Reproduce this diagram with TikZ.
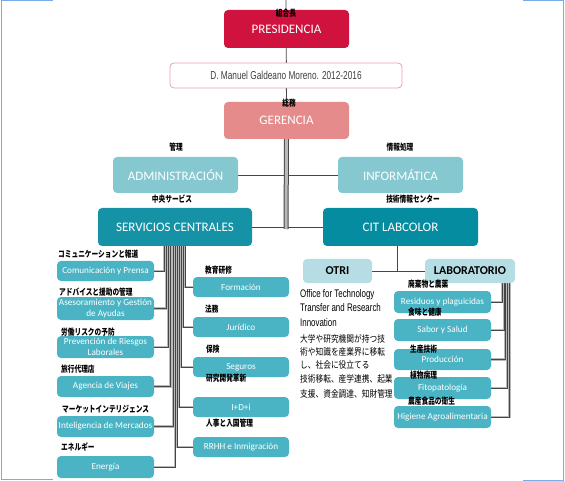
\documentclass[tikz,border=0pt]{standalone}
\usepackage{fontspec}
\setmainfont{Carlito}
\newfontfamily\boxfont{Carlito}
\newfontfamily\narrowfont{Liberation Sans}[FakeStretch=0.72]
\newfontfamily\jp{Noto Sans CJK JP}[FakeStretch=0.76]
\newfontfamily\jpd{Noto Sans CJK JP}[FakeStretch=0.82]
\usetikzlibrary{calc}
\pgfdeclarelayer{bg}
\pgfsetlayers{bg,main}
\definecolor{cPres}{RGB}{208,18,62}
\definecolor{cGer}{RGB}{229,139,139}
\definecolor{cManB}{RGB}{232,160,165}
\definecolor{cAdm}{RGB}{134,200,208}
\definecolor{cServ}{RGB}{22,146,166}
\definecolor{cCit}{RGB}{6,140,160}
\definecolor{cPale}{RGB}{182,221,227}
\definecolor{cSub}{RGB}{75,180,196}
\definecolor{cFrame}{RGB}{120,172,232}
\definecolor{cLine}{RGB}{70,70,70}
\begin{document}
\begin{tikzpicture}[x=1pt,y=-1pt,
  bx/.style={rounded corners=4pt, inner sep=0pt, text=white, align=center,
    font=\boxfont\fontsize{13}{14}\selectfont},
  topbox/.style={bx, minimum width=125pt, minimum height=37pt},
  midbox/.style={bx, minimum height=38pt},
  pale/.style={bx, fill=cPale, text=black, minimum height=24pt,
    font=\boxfont\bfseries\fontsize{12}{13}\selectfont},
  sub/.style={bx, fill=cSub, minimum height=21pt,
    font=\boxfont\fontsize{9.2}{10.5}\selectfont},
  subL/.style={sub, minimum width=97pt},
  subR/.style={sub, minimum width=96pt},
  jl/.style={inner sep=0pt, text=black, font=\jp\bfseries\fontsize{8.8}{9}\selectfont},
  jlw/.style={jl, anchor=west},
  desc/.style={inner sep=0pt, anchor=base west, text=black,
    font=\narrowfont\fontsize{11}{12}\selectfont},
  descj/.style={desc, font=\jpd\fontsize{9.4}{11}\selectfont},
  line/.style={draw=cLine, line width=0.9pt},
  trunk/.style={draw=cLine, line width=5pt, postaction={draw=gray!55, line width=3pt}},
  under/.style={draw=gray!55, line width=2.6pt},
  over/.style={draw=cLine, line width=0.6pt},
  frame/.style={draw=cFrame, line width=0.9pt}
]
\useasboundingbox (0,0) rectangle (565,481);

% frame
\draw[frame] (53,0.5) -- (1,0.5) -- (1,479.5) -- (53,479.5);
\draw[frame] (523,0.5) -- (563,0.5) -- (563,480) -- (523,480);

% top boxes
\node[topbox, fill=cPres, minimum height=38pt] (pres) at (286.5,29) {PRESIDENCIA};
\node[bx, fill=white, draw=cManB, line width=0.8pt, minimum width=232pt, minimum height=25pt,
  text=black!75, font=\narrowfont\fontsize{11.5}{12}\selectfont] (man) at (286,75.5)
  {D. Manuel Galdeano Moreno. 2012-2016};
\node[topbox, fill=cGer] (ger) at (286.5,120.5) {GERENCIA};
\node[topbox, fill=cAdm, minimum height=36pt] (adm) at (175.5,175) {ADMINISTRACIÓN};
\node[topbox, fill=cAdm, minimum height=36pt] (inf) at (400.5,175) {INFORMÁTICA};
\node[midbox, fill=cServ, minimum width=154pt] (serv) at (175,227) {SERVICIOS CENTRALES};
\node[midbox, fill=cCit, minimum width=155pt] (cit) at (400.5,227) {CIT LABCOLOR};
\node[pale, minimum width=69pt] (otri) at (337.5,271) {OTRI};
\node[pale, minimum width=90pt] (lab) at (470,271) {LABORATORIO};

% left column
\node[subL, minimum height=20pt] (com) at (105.5,271) {Comunicación y Prensa};
\node[subL, minimum height=23pt] (ase) at (105.5,308.5) {Asesoramiento y Gestión\\de Ayudas};
\node[subL, minimum height=22pt] (pre) at (105.5,347) {Prevención de Riesgos\\Laborales};
\node[subL] (age) at (105.5,386.5) {Agencia de Viajes};
\node[subL] (int) at (105.5,426.5) {Inteligencia de Mercados};
\node[subL, minimum height=22pt] (ene) at (105.5,467) {Energía};

% right column
\node[subR, minimum height=20pt] (for) at (241,287) {Formación};
\node[subR, minimum height=20pt] (jur) at (241,327) {Jurídico};
\node[subR, minimum height=20pt] (seg) at (241,367) {Seguros};
\node[subR, minimum height=20pt] (idi) at (241,407) {I+D+i};
\node[subR, minimum height=20pt] (rrh) at (241,447) {RRHH e Inmigración};

% laboratorio children
\node[subL, minimum height=22pt] (res) at (442.5,302) {Residuos y plaguicidas};
\node[subL, minimum height=22pt] (sab) at (442.5,330) {Sabor y Salud};
\node[subL] (pro) at (442.5,359.5) {Producción};
\node[subL, minimum height=22pt] (fit) at (442.5,388) {Fitopatología};
\node[subL, minimum height=22pt] (hig) at (442.5,417) {Higiene Agroalimentaria};

% coordinates
\coordinate (top) at (286,0);
\coordinate (tj) at (286,229);
\coordinate (sa) at (164,246);
\coordinate (sb) at (166.2,246);
\coordinate (sc) at (168.4,246);
\coordinate (sd) at (170.6,246);
\coordinate (se) at (172.8,246);
\coordinate (sf) at (175,246);
\coordinate (ra) at (185,246);
\coordinate (rb) at (183,246);
\coordinate (rc) at (181,246);
\coordinate (rd) at (179,246);
\coordinate (re) at (177,246);
\coordinate (la) at (502,283);
\coordinate (lb) at (503.8,283);
\coordinate (lc) at (505.6,283);
\coordinate (ld) at (507.4,283);
\coordinate (le) at (509.2,283);
\coordinate (cj) at (397,246);

\begin{pgfonlayer}{bg}
  \draw[line] (top) -- (ger.north);
  \draw[line] (adm) -- (inf);
  \draw[line] (serv) -- (cit);
  \draw[trunk] (ger.south) -- (tj);
  \draw[line] (cj) -- (cj |- otri);
  \draw[line] (otri) -- (lab);
  \foreach \st in {under,over}{
    \draw[\st] (com.east) -| (sa);
    \draw[\st] (ase.east) -| (sb);
    \draw[\st] (pre.east) -| (sc);
    \draw[\st] (age.east) -| (sd);
    \draw[\st] (int.east) -| (se);
    \draw[\st] (ene.east) -| (sf);
    \draw[\st] (for.west) -| (ra);
    \draw[\st] (jur.west) -| (rb);
    \draw[\st] (seg.west) -| (rc);
    \draw[\st] (idi.west) -| (rd);
    \draw[\st] (rrh.west) -| (re);
    \draw[\st] (res.east) -| (la);
    \draw[\st] (sab.east) -| (lb);
    \draw[\st] (pro.east) -| (lc);
    \draw[\st] (fit.east) -| (ld);
    \draw[\st] (hig.east) -| (le);
  }
\end{pgfonlayer}

% Japanese labels
\node[jl] (j1) at (286,13) {組合長};
\node[jl] (j2) at (289,103) {総務};
\node[jl] (j3) at (176,147) {管理};
\node[jl] (j4) at (400,147) {情報処理};
\node[jl] (j5) at (172,199) {中央サービス};
\node[jl] (j6) at (413,199) {技術情報センター};
\node[jlw] (j7) at (58,254) {コミュニケーションと報道};
\node[jlw] (j8) at (59,292) {アドバイスと援助の管理};
\node[jlw] (j9) at (61,332) {労働リスクの予防};
\node[jlw] (j10) at (61,369) {旅行代理店};
\node[jlw] (j11) at (62,409) {マーケットインテリジェンス};
\node[jlw] (j12) at (61,447) {エネルギー};
\node[jlw] (j13) at (205,270) {教育研修};
\node[jlw] (j14) at (205,309) {法務};
\node[jlw] (j15) at (206,349) {保険};
\node[jlw] (j16) at (206,378) {研究開発革新};
\node[jlw] (j17) at (206,423) {人事と入国管理};
\node[jlw] (j18) at (408,284) {廃棄物と農薬};
\node[jlw] (j19) at (408,312) {食味と健康};
\node[jlw] (j20) at (410,349) {生産技術};
\node[jlw] (j21) at (410,375) {植物病理};
\node[jlw] (j22) at (408,401) {農産食品の衛生};

% OTRI description
\node[desc] (d1) at (300,297) {Office for Technology};
\node[desc] (d2) at (300,311) {Transfer and Research};
\node[desc] (d3) at (300,326) {Innovation};
\node[descj] (d4) at (300,342) {大学や研究機関が持つ技};
\node[descj] (d5) at (300,355) {術や知識を産業界に移転};
\node[descj] (d6) at (300,368) {し、社会に役立てる};
\node[descj] (d7) at (300,382) {技術移転、産学連携、起業};
\node[descj] (d8) at (300,397) {支援、資金調達、知財管理};
\end{tikzpicture}
\end{document}
